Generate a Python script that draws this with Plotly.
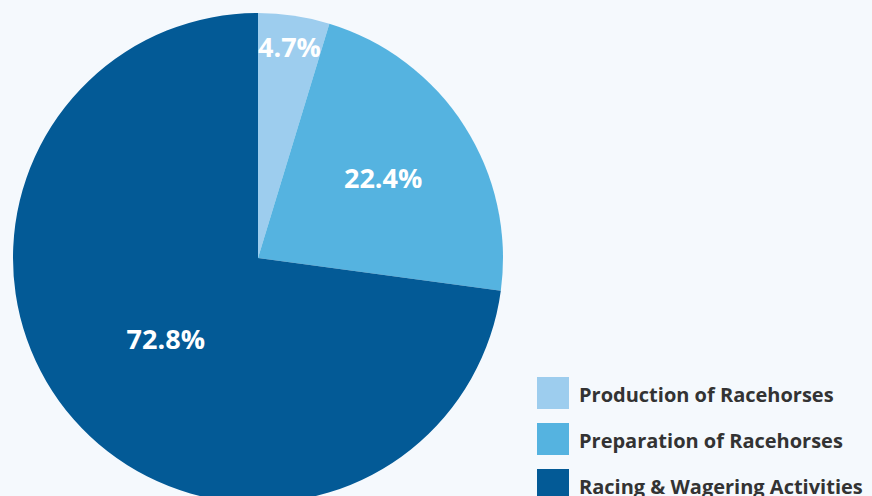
import plotly.graph_objects as go

categories = ["Production of Racehorses", "Preparation of Racehorses", "Racing & Wagering Activities"]
values = [4.7, 22.4, 72.8]
colors = ["#9dcdee", "#55b3e0", "#035a96"]
text_labels = ["4.7%", "22.4%", "72.8%"]

W, H = 872, 516
BG = "#f5f9fd"
FONT = "Open Sans"

fig = go.Figure()
fig.add_trace(go.Pie(
    labels=categories,
    values=values,
    text=text_labels,
    textinfo="text",
    textposition="inside",
    insidetextorientation="horizontal",
    textfont=dict(family=FONT, size=27, color="white", weight="bold"),
    marker=dict(colors=colors, line=dict(width=0)),
    sort=False,
    direction="clockwise",
    rotation=0,
    domain=dict(x=[13 / W, 503 / W], y=[0, 1]),
    showlegend=False,
    hoverinfo="label+percent",
))

# custom legend (large square swatches)
sw = 32
x0 = 537
y0 = 377
step = 46
for i, (cat, col) in enumerate(zip(categories, colors)):
    top = y0 + i * step
    fig.add_shape(type="rect", xref="paper", yref="paper",
                  x0=x0 / W, x1=(x0 + sw) / W,
                  y0=1 - (top + sw) / H, y1=1 - top / H,
                  fillcolor=col, line=dict(width=0), layer="above")
    fig.add_annotation(xref="paper", yref="paper",
                       x=577 / W, y=1 - (top + sw / 2 + 1) / H,
                       xanchor="left", yanchor="middle",
                       text=cat, showarrow=False,
                       font=dict(family=FONT, size=20, color="#333333", weight="bold"))

fig.update_layout(
    width=W, height=H,
    margin=dict(l=0, r=0, t=0, b=0),
    paper_bgcolor=BG, plot_bgcolor=BG,
    showlegend=False,
    uniformtext=dict(minsize=27, mode="show"),
)

fig.write_html("out.html", post_script="document.body.style.overflow='hidden';document.body.style.margin='0';document.documentElement.style.background='" + BG + "';")
